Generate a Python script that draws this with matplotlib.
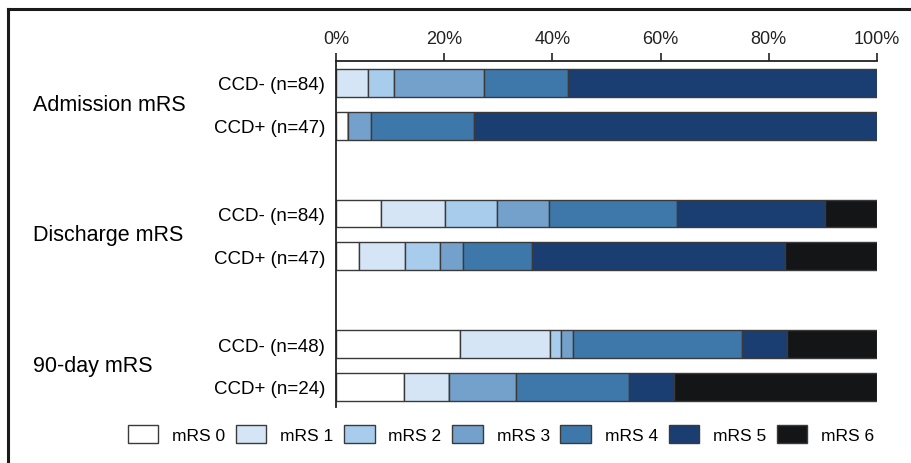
import matplotlib
matplotlib.use("Agg")
import matplotlib.pyplot as plt
from matplotlib.lines import Line2D
from matplotlib.patches import Patch
import numpy as np

plt.rcParams['font.family'] = ['Liberation Sans', 'DejaVu Sans']

groups = ["Admission mRS", "Discharge mRS", "90-day mRS"]
rows = ["CCD- (n=84)", "CCD+ (n=47)", "CCD- (n=84)", "CCD+ (n=47)", "CCD- (n=48)", "CCD+ (n=24)"]
categories = ["mRS 0", "mRS 1", "mRS 2", "mRS 3", "mRS 4", "mRS 5", "mRS 6"]

# patient counts per mRS category (0..6) for each row
adm_neg = [0, 5, 4, 14, 13, 48, 0]
adm_pos = [1, 0, 0, 2, 9, 35, 0]
dis_neg = [7, 10, 8, 8, 20, 23, 8]
dis_pos = [2, 4, 3, 2, 6, 22, 8]
d90_neg = [11, 8, 1, 1, 15, 4, 8]
d90_pos = [3, 2, 0, 3, 5, 2, 9]

colors = ["#ffffff", "#d5e5f5", "#a8cdec", "#74a1cc", "#3e78ab", "#1a3e72", "#141517"]
tick_labels = ["0%", "20%", "40%", "60%", "80%", "100%"]

counts = np.array([adm_neg, adm_pos, dis_neg, dis_pos, d90_neg, d90_pos], dtype=float)
pct = counts / counts.sum(axis=1, keepdims=True) * 100

W, H = 911, 464
fig = plt.figure(figsize=(W / 100, H / 100), dpi=100)
ax = fig.add_axes([336 / W, 1 - 408 / H, (877 - 336) / W, (408 - 62) / H])

ypos = np.array([g * 3.05 + r for g in range(3) for r in range(2)])
left = np.zeros(len(rows))
for k, cat in enumerate(categories):
    ax.barh(ypos, pct[:, k], left=left, height=0.65, color=colors[k],
            edgecolor="#3a3a3a", linewidth=1.0, label=cat)
    left += pct[:, k]

ax.set_xlim(0, 100)
ax.set_ylim(7.57, -0.51)
ax.xaxis.tick_top()
ax.set_xticks(np.linspace(0, 100, 6))
ax.set_xticklabels(tick_labels, fontsize=13)
ax.tick_params(axis='x', direction='out', length=6, width=1.2, pad=4, colors='#222222')
ax.set_yticks(ypos)
ax.set_yticklabels(rows, fontsize=13.5)
ax.tick_params(axis='y', length=0, pad=8)
for s in ["right", "bottom"]:
    ax.spines[s].set_visible(False)
for s in ["top", "left"]:
    ax.spines[s].set_linewidth(1.3)
    ax.spines[s].set_color('#222222')

for g, name in enumerate(groups):
    yc = g * 3.05 + 0.5
    ydisp = ax.transData.transform((0, yc))[1]
    fig.text(33 / W, ydisp / H, name, fontsize=15.5, ha='left', va='center')

handles = [Patch(facecolor=c, edgecolor="#3a3a3a", linewidth=1.0) for c in colors]
fig.legend(handles, categories, loc='center', bbox_to_anchor=(501 / W, 1 - 435 / H),
           ncol=7, frameon=False, fontsize=12.5, handlelength=1.75, handleheight=1.2,
           columnspacing=0.62, handletextpad=0.8)

fig.add_artist(Line2D([8 / W, 8 / W], [0, 1 - 10 / H], color='#1a1a1a', linewidth=2.2,
                      transform=fig.transFigure))
fig.add_artist(Line2D([8 / W, 1], [1 - 10 / H, 1 - 10 / H], color='#1a1a1a', linewidth=2.2,
                      transform=fig.transFigure))

fig.savefig("out.png", dpi=100)
